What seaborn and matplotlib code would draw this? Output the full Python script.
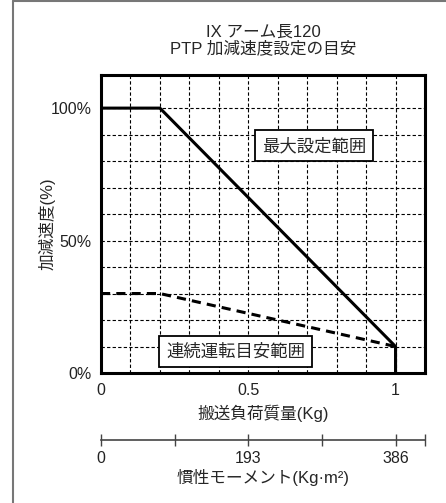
import matplotlib
matplotlib.use("Agg")
import matplotlib.pyplot as plt
from matplotlib.lines import Line2D
import seaborn as sns
import pandas as pd

# data
mass_kg = [0.0, 0.2, 1.0, 1.0]
max_accel = [100, 100, 10, 0]
cont_mass_kg = [0.0, 0.2, 1.0]
cont_accel = [30, 30, 10]
mass_ticks = [0, 0.5, 1]
mass_ticklabels = ["0", "0.5", "1"]
accel_ticks = [0, 50, 100]
accel_ticklabels = ["0%", "50%", "100%"]
moment_ticks = [0, 96.5, 193, 289.5, 386]
moment_ticklabels = ["0", "", "193", "", "386"]
moment_max = 386

sns.set_theme(style="white")
plt.rcParams['font.family'] = ['Liberation Sans', 'Noto Sans CJK JP']

fig = plt.figure(figsize=(4.46, 5.03), dpi=100)
W, H = 446, 503

# outer frame (top and left only)
fig.add_artist(Line2D([13 / W, 13 / W], [0, 1 - 1 / H], color="#777777", lw=1.5))
fig.add_artist(Line2D([13 / W, 1], [1 - 1 / H, 1 - 1 / H], color="#777777", lw=1.5))

ax = fig.add_axes([101 / W, 130 / H, 324 / W, 298 / H])

df_max = pd.DataFrame({"mass": mass_kg, "accel": max_accel})
df_cont = pd.DataFrame({"mass": cont_mass_kg, "accel": cont_accel})
sns.lineplot(data=df_max, x="mass", y="accel", ax=ax, color="black", lw=2.2,
             sort=False, estimator=None, zorder=5)
sns.lineplot(data=df_cont, x="mass", y="accel", ax=ax, color="black", lw=2.2,
             sort=False, estimator=None, zorder=5, dashes=False, linestyle=(0, (3, 2)))

ax.set_xlim(0, 1.1)
ax.set_ylim(0, 112.5)
for v in [i / 10 for i in range(1, 11)]:
    ax.axvline(v, color="black", lw=0.8, ls=(0, (3, 2)), zorder=1)
for v in range(10, 101, 10):
    ax.axhline(v, color="black", lw=0.8, ls=(0, (3, 2)), zorder=1)

ax.set_xticks(mass_ticks)
ax.set_xticklabels(mass_ticklabels, fontsize=11.5)
ax.set_yticks(accel_ticks)
ax.set_yticklabels(accel_ticklabels, fontsize=11.5)
ax.tick_params(length=0, pad=7, colors="#222222")
ax.set_xlabel("搬送負荷質量(Kg)", fontsize=12, labelpad=5)
ax.set_ylabel("加減速度(%)", fontsize=12)
ax.yaxis.set_label_coords(-0.14, 0.5)
for s in ax.spines.values():
    s.set_color("black")
    s.set_linewidth(2.2)
ax.set_title("IX アーム長120\nPTP 加減速度設定の目安", fontsize=12, pad=16, linespacing=1.05)

box = dict(boxstyle="square,pad=0.4", fc="white", ec="black", lw=1.3)
ax.text(0.724, 85.8, "最大設定範囲", fontsize=12.5, ha="center", va="center", bbox=box, zorder=6)
ax.text(0.457, 8.1, "連続運転目安範囲", fontsize=12.5, ha="center", va="center", bbox=box, zorder=6)

# secondary scale for moment of inertia
ax2 = fig.add_axes([101 / W, 63 / H, 324 / W, 0.001])
ax2.set_xlim(0, moment_max * 1.1)
for name in ["top", "left", "right"]:
    ax2.spines[name].set_visible(False)
ax2.spines["bottom"].set_color("#444444")
ax2.spines["bottom"].set_linewidth(1.2)
ax2.set_yticks([])
ax2.set_xticks(moment_ticks + [moment_max * 1.1])
ax2.set_xticklabels(moment_ticklabels + [""], fontsize=11.5)
ax2.tick_params(axis="x", bottom=True, direction="inout", length=8, width=1,
                color="#444444", labelcolor="#222222", pad=4)
ax2.set_facecolor("none")
ax2.set_xlabel("慣性モーメント(Kg·m²)", fontsize=12, labelpad=2)

fig.savefig("out.png", dpi=100)
